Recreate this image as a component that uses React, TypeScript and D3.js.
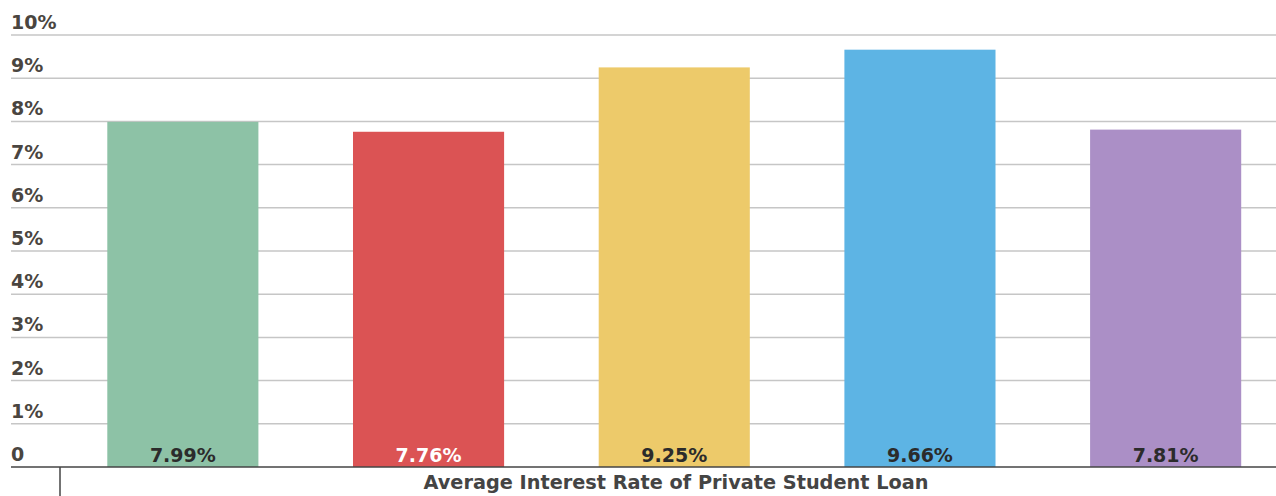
import React from "react";
import * as d3 from "d3";

const categories = ["A", "B", "C", "D", "E"];
const values = [7.99, 7.76, 9.25, 9.66, 7.81];
const colors = ["#8DC2A6", "#DB5354", "#EDCA6A", "#5DB4E4", "#AB8FC6"];
const labelColors = ["#2b2b2b", "#ffffff", "#2b2b2b", "#2b2b2b", "#2b2b2b"];
const yTicks = [0, 1, 2, 3, 4, 5, 6, 7, 8, 9, 10];
const title = "Average Interest Rate of Private Student Loan";

const W = 1276;
const H = 496;
const FONT = "'DejaVu Sans', Verdana, sans-serif";

export default function App() {
  const y = d3.scaleLinear().domain([0, 10]).range([467, 35]);
  const x = d3
    .scaleBand<string>()
    .domain(categories)
    .range([60, 1288.5])
    .paddingInner(0.385)
    .paddingOuter(0.1925);

  return (
    <svg
      width={W}
      height={H}
      style={{ position: "absolute", left: 0, top: 0, background: "#fff" }}
      fontFamily={FONT}
    >
      {yTicks.map((t) => (
        <g key={t}>
          {t > 0 && (
            <line x1={11} x2={W} y1={y(t)} y2={y(t)} stroke="#c6c6c6" strokeWidth={1.5} />
          )}
          <text x={11} y={y(t) - 6} fontSize={19} fontWeight={700} fill="#4a4540">
            {t === 0 ? "0" : `${t}%`}
          </text>
        </g>
      ))}
      {categories.map((c, i) => (
        <g key={c}>
          <rect
            x={x(c)}
            y={y(values[i])}
            width={x.bandwidth()}
            height={y(0) - y(values[i])}
            fill={colors[i]}
          />
          <text
            x={(x(c) as number) + x.bandwidth() / 2}
            y={y(0) - 5}
            textAnchor="middle"
            fontSize={19}
            fontWeight={700}
            fill={labelColors[i]}
          >
            {values[i].toFixed(2)}%
          </text>
        </g>
      ))}
      <line x1={11} x2={W} y1={y(0)} y2={y(0)} stroke="#444" strokeWidth={1.5} />
      <line x1={60} x2={60} y1={y(0)} y2={H} stroke="#444" strokeWidth={1.5} />
      <text
        x={676}
        y={489}
        textAnchor="middle"
        fontSize={19.3}
        fontWeight={700}
        fill="#444"
      >
        {title}
      </text>
    </svg>
  );
}
